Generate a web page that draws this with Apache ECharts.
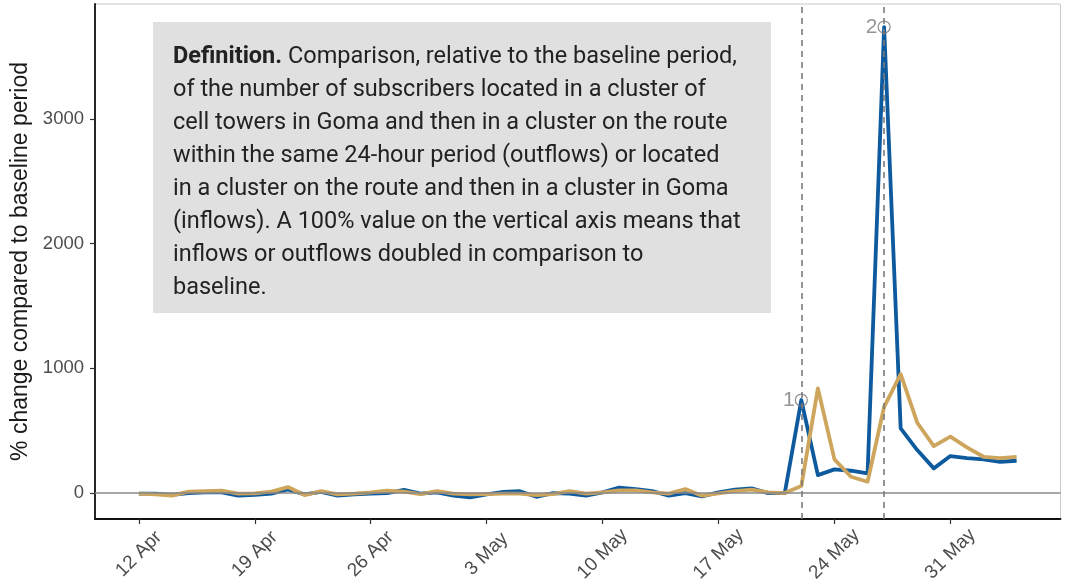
<!DOCTYPE html>
<html>
<head>
<meta charset="utf-8">
<script src="https://cdn.jsdelivr.net/npm/echarts@6/dist/echarts.min.js"></script>
<style>
html,body{margin:0;padding:0;background:#fff;}
#chart{width:1066px;height:585px;}
</style>
</head>
<body>
<div id="chart"></div>
<script>
// Day index 0 = 12 Apr ... 53 = 4 Jun
const dayIndex = Array.from({length: 54}, (_, i) => i);

const outflows = [
  -5, -5, -15, 0, 5, 5, -20, -15, -5, 30,
  -10, 10, -20, -10, -5, 0, 25, -5, 5, -20,
  -35, -10, 10, 15, -30, 0, -5, -20, 5, 43,
  32, 16, -21, 0, -27, 5, 27, 37, 0, 0,
  746, 144, 190, 179, 158, 3737, 519, 345, 198, 297,
  281, 270, 251, 259
];

const inflows = [
  -5, -11, -21, 11, 16, 19, -5, -3, 11, 48,
  -16, 16, -11, -5, 5, 19, 11, -8, 16, -5,
  -11, -8, -5, -5, -16, -8, 16, -5, 5, 21,
  21, 5, -5, 32, -21, -3, 16, 27, 5, 0,
  56, 839, 270, 131, 91, 692, 954, 564, 377, 452,
  366, 291, 281, 291
];

const xTickDays = [0, 7, 14, 21, 28, 35, 42, 49];
const xTickLabels = ['12 Apr', '19 Apr', '26 Apr', '3 May', '10 May', '17 May', '24 May', '31 May'];
const yTicks = [0, 1000, 2000, 3000];
const yTickLabels = ['0', '1000', '2000', '3000'];

const eventDays = [40, 45];
const eventLabels = ['1', '2'];

const definitionBold = 'Definition.';
const definitionLines = [
  ' Comparison, relative to the baseline period,',
  'of the number of subscribers located in a cluster of',
  'cell towers in Goma and then in a cluster on the route',
  'within the same 24-hour period (outflows) or located',
  'in a cluster on the route and then in a cluster in Goma',
  '(inflows). A 100% value on the vertical axis means that',
  'inflows or outflows doubled in comparison to',
  'baseline.'
];

const chart = echarts.init(document.getElementById('chart'), null, {renderer: 'canvas'});

const richText = '{b|' + definitionBold + '}{n|' + definitionLines[0] + '}\n' +
  definitionLines.slice(1).map(l => '{n|' + l + '}').join('\n');

const option = {
  animation: false,
  backgroundColor: '#ffffff',
  grid: {
    left: 95, right: 5.5, top: 4, bottom: 66,
    show: true, borderColor: '#c8c8c8', borderWidth: 1
  },
  xAxis: {
    type: 'value',
    min: -2.65, max: 55.65,
    splitLine: {show: false},
    axisLine: {show: true, onZero: false, lineStyle: {color: '#111', width: 1.8}},
    axisTick: {show: true, customValues: xTickDays, length: 5, lineStyle: {color: '#333', width: 1.2}},
    axisLabel: {
      customValues: xTickDays,
      formatter: v => xTickLabels[xTickDays.indexOf(v)] || '',
      rotate: 45, align: 'center', verticalAlign: 'middle', margin: 35,
      color: '#4d4d4d', fontSize: 19, fontFamily: 'Liberation Sans, Arial, sans-serif'
    }
  },
  yAxis: {
    type: 'value',
    min: -208, max: 3922,
    name: '% change compared to baseline period',
    nameLocation: 'middle', nameGap: 43,
    nameTextStyle: {color: '#1a1a1a', fontSize: 23, fontFamily: 'Liberation Sans, Arial, sans-serif'},
    splitLine: {show: false},
    axisLine: {show: true, onZero: false, lineStyle: {color: '#111', width: 1.8}},
    axisTick: {show: true, customValues: yTicks, length: 5, lineStyle: {color: '#333', width: 1.2}},
    axisLabel: {
      customValues: yTicks, margin: 11,
      formatter: v => yTickLabels[yTicks.indexOf(v)] || '',
      color: '#4d4d4d', fontSize: 18.5, fontFamily: 'Liberation Sans, Arial, sans-serif'
    }
  },
  graphic: [
    {
      type: 'rect', z: 0,
      shape: {x: 153, y: 22, width: 618, height: 291},
      style: {fill: '#e0e0e0'}
    },
    {
      type: 'text', z: 1,
      x: 173, y: 41,
      style: {
        text: richText,
        verticalAlign: 'top',
        rich: {
          b: {fontFamily: 'Roboto, sans-serif', fontWeight: 'bold', fontSize: 23.5, lineHeight: 33, fill: '#222'},
          n: {fontFamily: 'Roboto, sans-serif', fontSize: 23.5, lineHeight: 33, fill: '#222'}
        }
      }
    }
  ],
  series: [
    {
      name: 'zero', type: 'line', data: [], z: 1, silent: true,
      markLine: {
        symbol: 'none', silent: true, label: {show: false},
        lineStyle: {color: '#888', type: 'solid', width: 1.6},
        data: [{yAxis: 0}]
      }
    },
    {
      name: 'Outflows', type: 'line', z: 2,
      data: dayIndex.map(i => [i, outflows[i]]),
      showSymbol: false, symbol: 'none',
      lineStyle: {color: '#0d5a9e', width: 3.8, join: 'round'},
      itemStyle: {color: '#0d5a9e'}
    },
    {
      name: 'Inflows', type: 'line', z: 3,
      data: dayIndex.map(i => [i, inflows[i]]),
      showSymbol: false, symbol: 'none',
      lineStyle: {color: '#cda55c', width: 3.8, join: 'round'},
      itemStyle: {color: '#cda55c'}
    },
    {
      name: 'events', type: 'line', data: [], z: 4, silent: true,
      markLine: {
        symbol: 'none', silent: true, label: {show: false},
        lineStyle: {color: '#7a7a7a', type: [6, 5], width: 1.6},
        data: eventDays.map(d => ({xAxis: d}))
      }
    },
    {
      name: 'eventMarks', type: 'scatter', z: 5, silent: true,
      data: eventDays.map(d => [d, outflows[d]]),
      symbol: 'circle', symbolSize: 12,
      itemStyle: {color: 'rgba(0,0,0,0)', borderColor: '#7a7a7a', borderWidth: 1.3},
      label: {
        show: true, position: 'left', distance: 0,
        formatter: p => eventLabels[p.dataIndex],
        color: '#7a7a7a', fontSize: 21, fontFamily: 'Liberation Sans, Arial, sans-serif'
      }
    }
  ]
};

chart.setOption(option);
</script>
</body>
</html>
